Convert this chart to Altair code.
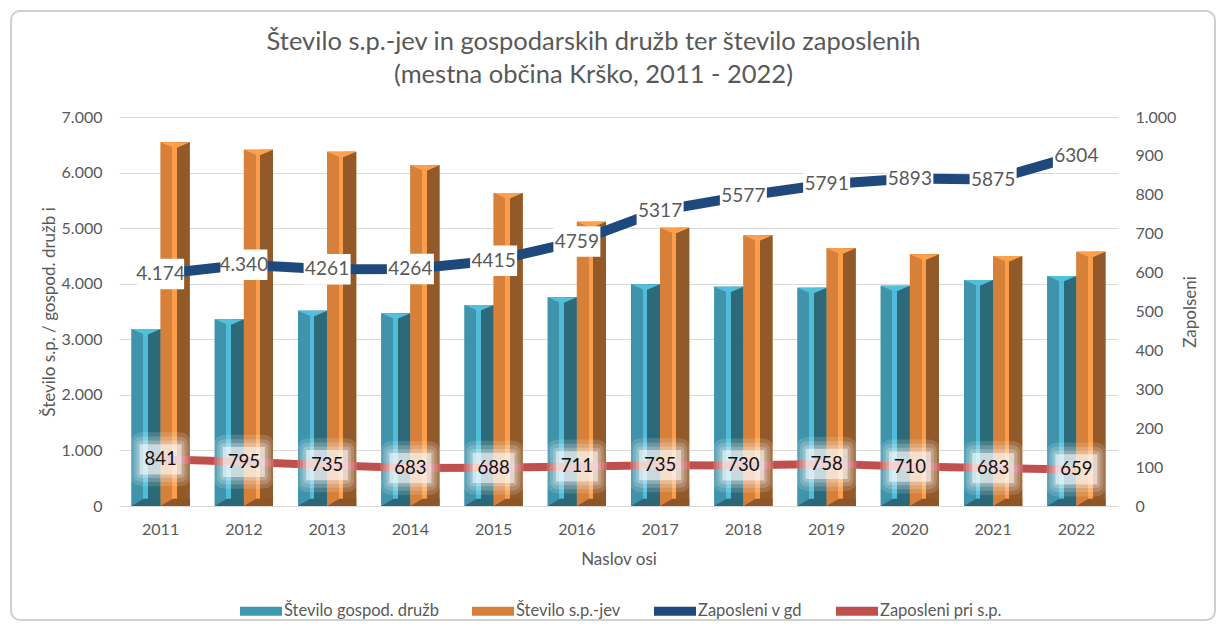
import altair as alt
import pandas as pd

years = [str(y) for y in range(2011, 2023)]
druzbe = [3185, 3360, 3515, 3468, 3617, 3756, 3990, 3946, 3928, 3964, 4068, 4140]
sp_jev = [6545, 6412, 6376, 6131, 5633, 5116, 5008, 4873, 4637, 4529, 4498, 4576]
zap_gd = [4174, 4340, 4261, 4264, 4415, 4759, 5317, 5577, 5791, 5893, 5875, 6304]
zap_gd_labels = ["4.174", "4.340", "4261", "4264", "4415", "4759", "5317", "5577",
                 "5791", "5893", "5875", "6304"]
zap_sp = [841, 795, 735, 683, 688, 711, 735, 730, 758, 710, 683, 659]

S_GD = "Število gospod. družb"
S_SP = "Število s.p.-jev"
S_ZGD = "Zaposleni v gd"
S_ZSP = "Zaposleni pri s.p."

left_ticks = [0, 1000, 2000, 3000, 4000, 5000, 6000, 7000]
right_ticks = [0, 100, 200, 300, 400, 500, 600, 700, 800, 900, 1000]

bars_df = pd.DataFrame({
    "year": years * 2,
    "series": [S_GD] * len(years) + [S_SP] * len(years),
    "value": druzbe + sp_jev,
})
lines_df = pd.DataFrame({
    "year": years,
    "gd": zap_gd,
    "gd_label": zap_gd_labels,
    "sp": zap_sp,
    "sp_label": [str(v) for v in zap_sp],
})

GRAY = "#595959"
FONT = "Lato"
W, H = 999, 389
Y_TITLE = "Število s.p. / gospod. družb i"

x_axis = alt.Axis(labelAngle=0, ticks=False, domain=False, labelPadding=15,
                  labelFontSize=16, labelColor=GRAY, labelFont=FONT,
                  titleFontSize=17, titleColor=GRAY, titleFont=FONT,
                  titleFontWeight="normal", titlePadding=14)
x_enc = alt.X("year:O", title="Naslov osi",
              scale=alt.Scale(paddingInner=0.3, paddingOuter=0.15), axis=x_axis)

y_scale = alt.Scale(domain=[0, 7000], nice=False)
y_axis = alt.Axis(values=left_ticks, grid=True, gridColor="#d9d9d9", gridWidth=1,
                  domain=False, ticks=False, labelPadding=17, labelFontSize=16,
                  labelColor=GRAY, labelFont=FONT,
                  labelExpr="replace(format(datum.value, ','), ',', '.')",
                  titleFontSize=17, titleColor=GRAY, titleFont=FONT,
                  titleFontWeight="normal", titlePadding=3)


def yenc(field):
    return alt.Y(field, type="quantitative", scale=y_scale, axis=y_axis, title=Y_TITLE)


xoff = alt.XOffset("series:N", scale=alt.Scale(domain=[S_GD, S_SP], paddingInner=0, paddingOuter=0))

color_scale = alt.Scale(domain=[S_GD, S_SP, S_ZGD, S_ZSP],
                        range=["#3e98b0", "#d67f38", "#1f497d", "#c0504d"])

legend = alt.Legend(title=None, orient="none", legendX=121, legendY=473,
                    direction="horizontal", symbolType="M-1,-0.22H1V0.22H-1Z",
                    symbolSize=1764, symbolStrokeWidth=0, labelFontSize=16.5,
                    labelColor=GRAY, labelFont=FONT, labelOffset=2,
                    columnPadding=33, labelLimit=300, padding=0)

# decorative outer frame
frame = alt.Chart(alt.Data(values=[{"f": 1}])).mark_rect(
    fill="white", fillOpacity=0, stroke="#cfcfcf", strokeWidth=2, cornerRadius=9
).encode(x=alt.value(-108), x2=alt.value(1096), y=alt.value(-106), y2=alt.value(503))

base_bars = alt.Chart(bars_df).mark_bar().encode(
    x=x_enc,
    xOffset=xoff,
    y=yenc("value"),
    color=alt.Color("series:N", scale=color_scale, legend=legend),
)


def grad(c_left, c_mid, c_right):
    return alt.Gradient(
        gradient="linear", x1=0, x2=1, y1=0, y2=0,
        stops=[
            alt.GradientStop(offset=0, color=c_left),
            alt.GradientStop(offset=0.40, color=c_left),
            alt.GradientStop(offset=0.40, color=c_mid),
            alt.GradientStop(offset=0.56, color=c_mid),
            alt.GradientStop(offset=0.56, color=c_right),
            alt.GradientStop(offset=1, color=c_right),
        ],
    )


def overlay(series, g, cap_color, bottom_color):
    src = alt.Chart(bars_df).transform_filter(alt.datum.series == series)
    body = src.mark_bar(fill=g).encode(x=x_enc, xOffset=xoff, y=yenc("value"))
    cap = src.mark_point(shape="M-1,0L1,0L0.16,0.36L-0.16,0.36Z", size=847,
                         filled=True, color=cap_color, opacity=1, strokeWidth=0).encode(
        x=x_enc, xOffset=xoff, y=yenc("value"))
    bottom = src.transform_calculate(base="0").mark_point(
        shape="M-1,0L1,0L1,-0.5L-0.16,-0.5Z", size=847,
        filled=True, color=bottom_color, opacity=1, strokeWidth=0).encode(
        x=x_enc, xOffset=xoff, y=yenc("base"))
    return [body, cap, bottom]


gd_layers = overlay(S_GD, grad("#3f93ab", "#50bcd9", "#2c6979"), "#52bfdc", "#2c6777")
sp_layers = overlay(S_SP, grad("#d6803a", "#fb9d4b", "#935a29"), "#fda04e", "#8e5626")

lsrc = alt.Chart(lines_df)

RBOX = "M-1,-{h}Q-1,-{k} -{j},-{k}H{j}Q1,-{k} 1,-{h}V{h}Q1,{k} {j},{k}H-{j}Q-1,{k} -1,{h}Z"


def rounded(hh, r=0.12):
    # rounded rectangle path, half-height hh (in units of half-width)
    return RBOX.format(h=round(hh - r, 3), k=hh, j=round(1 - r, 3))


gd_line = lsrc.mark_line(color="#1f497d", strokeWidth=10, strokeCap="butt").encode(
    x=x_enc, y=yenc("gd"))
gd_box = lsrc.mark_point(shape="M-1,-0.65H1V0.65H-1Z", size=2209, filled=True,
                         color="white", opacity=1, strokeWidth=0).encode(x=x_enc, y=yenc("gd"))
gd_text = lsrc.mark_text(fontSize=19, font=FONT, color=GRAY).encode(
    x=x_enc, y=yenc("gd"), text="gd_label:N")

sp_line = lsrc.mark_line(color="#c0504d", strokeWidth=8, strokeCap="butt").encode(
    x=x_enc, y=yenc("sp"))
sp_glow1 = lsrc.mark_point(shape=rounded(0.9, 0.4), size=3600, filled=True,
                           color="white", opacity=0.14, strokeWidth=0).encode(x=x_enc, y=yenc("sp"))
sp_glow2 = lsrc.mark_point(shape=rounded(0.84, 0.3), size=2916, filled=True,
                           color="white", opacity=0.18, strokeWidth=0).encode(x=x_enc, y=yenc("sp"))
sp_glow3 = lsrc.mark_point(shape=rounded(0.78, 0.2), size=2304, filled=True,
                           color="white", opacity=0.22, strokeWidth=0).encode(x=x_enc, y=yenc("sp"))
sp_box = lsrc.mark_point(shape="M-1,-0.72H1V0.72H-1Z", size=1764, filled=True,
                         color="white", opacity=0.55, strokeWidth=0).encode(x=x_enc, y=yenc("sp"))
sp_text = lsrc.mark_text(fontSize=18.5, font=FONT, color="#111111").encode(
    x=x_enc, y=yenc("sp"), text="sp_label:N")

left_group = alt.layer(
    base_bars, frame, *gd_layers, *sp_layers,
    gd_line, gd_box, gd_text,
    sp_line, sp_glow1, sp_glow2, sp_glow3, sp_box, sp_text,
)

right_axis = lsrc.mark_rule(opacity=0).encode(
    y=alt.Y("sp:Q", scale=alt.Scale(domain=[0, 1000], nice=False), title="Zapolseni",
            axis=alt.Axis(orient="right", values=right_ticks, grid=False, domain=False,
                          ticks=False, labelPadding=17, labelFontSize=16, labelColor=GRAY,
                          labelFont=FONT,
                          labelExpr="replace(format(datum.value, ','), ',', '.')",
                          titleFontSize=17, titleColor=GRAY, titleFont=FONT,
                          titleFontWeight="normal", titlePadding=24, titleAngle=270))
)

chart = alt.layer(left_group, right_axis).resolve_scale(y="independent").properties(
    width=W, height=H,
    padding={"left": 111, "top": 109, "right": 100, "bottom": 116},
    autosize=alt.AutoSizeParams(type="none"),
    title=alt.TitleParams(
        text=["Število s.p.-jev in gospodarskih družb ter število zaposlenih",
              "(mestna občina Krško,  2011 - 2022)"],
        fontSize=25.5, font=FONT, fontWeight="normal", color=GRAY,
        anchor="middle", frame="group", dx=-25, offset=-78, lineHeight=33,
    ),
).configure(font=FONT).configure_view(stroke=None)

chart.save("out.html", embed_options={"renderer": "svg", "actions": False})
